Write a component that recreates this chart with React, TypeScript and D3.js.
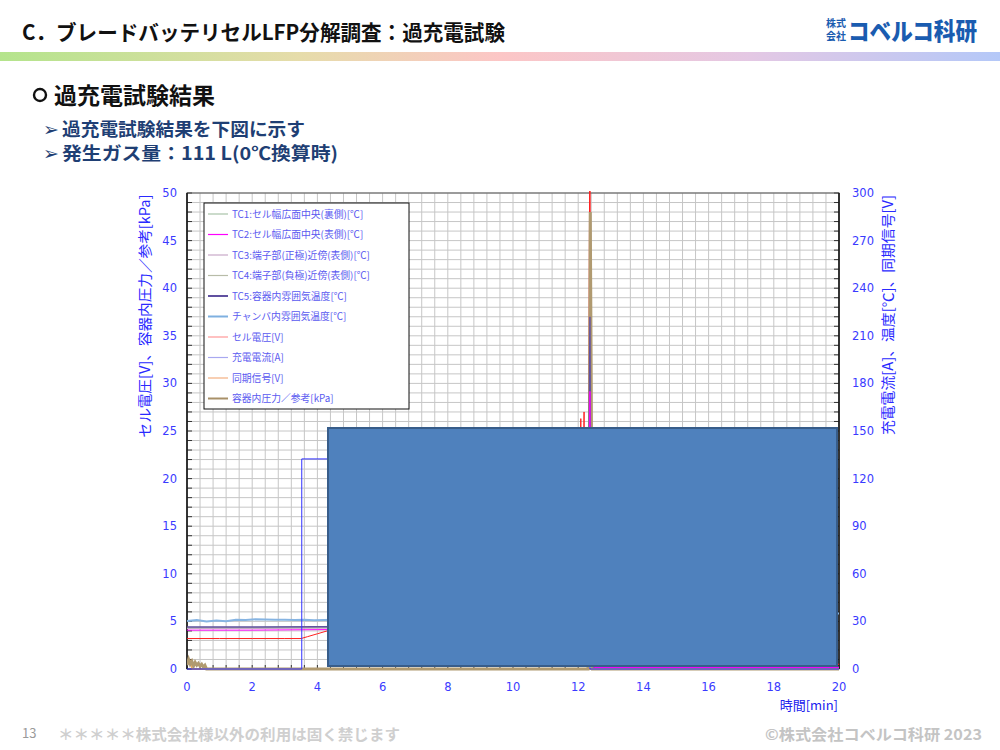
import React from "react";
import * as d3 from "d3";

// ---- data (time in min) ----
const xTicks = [0, 2, 4, 6, 8, 10, 12, 14, 16, 18, 20];
const leftTicks = [0, 5, 10, 15, 20, 25, 30, 35, 40, 45, 50];
const rightTicks = [0, 30, 60, 90, 120, 150, 180, 210, 240, 270, 300];

// left axis series
const voltageT = [0, 1, 2, 3, 3.5, 3.7, 4.0, 4.3, 6, 8, 10, 11.5, 12.0, 12.08, 12.1, 12.12, 12.18, 12.2, 12.22, 12.3, 12.36, 12.4, 12.5, 13, 14, 15, 16, 17, 18, 19, 20];
const voltageV = [3.2, 3.2, 3.2, 3.2, 3.2, 3.4, 3.7, 4.0, 4.3, 4.5, 4.7, 5.0, 5.5, 26.3, 5.8, 6.0, 27.0, 6.2, 6.5, 7.0, 60, 0.3, 0.5, 0.2, 0.6, 0.3, 0.5, 0.2, 0.4, 0.3, 0.5];
const pressureT = [0, 0.05, 0.1, 0.15, 0.2, 0.25, 0.3, 0.35, 0.4, 0.45, 0.5, 0.55, 0.6, 2, 12.3, 12.34, 12.37, 12.4, 12.44, 13, 20];
const pressureV = [0.4, 1.0, 0.5, 0.8, 0.3, 0.7, 0.4, 0.6, 0.3, 0.5, 0.2, 0.4, 0, 0, 0, 20, 48, 30, 0, 0, 0];

// right axis series
const currentT = [0, 3.52, 3.52, 12.36, 12.36, 20];
const currentV = [0, 0, 132.4, 132.4, 0, 0];
const syncT = [0, 0.15, 0.15, 20];
const syncV = [5.5, 5.5, 0, 0];
const chamberT = [0, 0.3, 0.6, 0.9, 1.2, 1.5, 1.8, 2.1, 2.4, 2.7, 3.0, 3.3, 3.6, 3.9, 4.2, 4.5, 8, 12.3, 13, 16, 20];
const chamberV = [30.2, 30.8, 30.0, 30.6, 30.1, 31.0, 30.9, 31.3, 31.2, 31.0, 31.1, 30.9, 31.0, 30.8, 30.9, 31.0, 31.0, 31.2, 33, 34, 35];
const tcT = [0, 2, 4, 6, 8, 10, 12, 12.3, 12.36, 12.4, 12.5, 20];
const tc1V = [26.0, 26.0, 26.2, 26.5, 27, 27.5, 28, 30, 150, 2, 1, 1];
const tc2V = [24.5, 24.5, 24.8, 25.2, 25.8, 26.5, 27, 30, 175, 2, 1, 1];
const tc3V = [25.5, 25.5, 25.7, 26.0, 26.5, 27.0, 27.5, 30, 120, 2, 1, 1];
const tc4V = [25.8, 25.8, 26.0, 26.3, 26.8, 27.3, 27.8, 30, 110, 2, 1, 1];
const tc5V = [26.5, 26.5, 26.6, 26.8, 27.2, 27.8, 28.2, 32, 222, 2, 1, 1];

const legendLabels = [
  "TC1:セル幅広面中央(裏側)[℃]",
  "TC2:セル幅広面中央(表側)[℃]",
  "TC3:端子部(正極)近傍(表側)[℃]",
  "TC4:端子部(負極)近傍(表側)[℃]",
  "TC5:容器内雰囲気温度[℃]",
  "チャンバ内雰囲気温度[℃]",
  "セル電圧[V]",
  "充電電流[A]",
  "同期信号[V]",
  "容器内圧力／参考[kPa]",
];
const legendColors = ["#a8c4a8", "#ff00ff", "#c8a8c8", "#b8bca8", "#6050a0", "#7fb0e0", "#ff9898", "#a8a8f0", "#f4b080", "#a89068"];
const legendWidths = [1.2, 1.2, 1.2, 1.2, 2, 2, 1.2, 1.2, 1.2, 2];

export default function App() {
  const L = 187, R = 839, T = 193, B = 669;
  const x = d3.scaleLinear().domain([0, 20]).range([L, R]);
  const yL = d3.scaleLinear().domain([0, 50]).range([B, T]);
  const yR = d3.scaleLinear().domain([0, 300]).range([B, T]);

  const lineL = (ts: number[], vs: number[]) =>
    d3.line<number>().x((_, i) => x(ts[i])).y((v) => yL(v))(vs) || "";
  const lineR = (ts: number[], vs: number[]) =>
    d3.line<number>().x((_, i) => x(ts[i])).y((v) => yR(v))(vs) || "";

  const vGrid = d3.range(0, 20.001, 0.4);
  const hGrid = d3.range(0, 50.001, 1);

  const axisColor = "#3a3aff";
  const tickFont = "DejaVu Sans, Verdana, sans-serif";
  const jp = "'Noto Sans CJK JP', sans-serif";

  return (
    <svg width={1000} height={750} style={{ position: "absolute", left: 0, top: 0, background: "#fff" }}>
      <defs>
        <linearGradient id="band" x1="0" x2="1" y1="0" y2="0">
          <stop offset="0" stopColor="#b4e48c" />
          <stop offset="0.3" stopColor="#e6dcaa" />
          <stop offset="0.5" stopColor="#fcc6c6" />
          <stop offset="0.75" stopColor="#e4c8e4" />
          <stop offset="1" stopColor="#b4c8f8" />
        </linearGradient>
        <clipPath id="plotclip">
          <rect x={L} y={T - 2} width={R - L} height={B - T + 4} />
        </clipPath>
      </defs>

      {/* header */}
      <text x={22} y={40} fontFamily={jp} fontWeight="bold" fontSize={21} fill="#111" textLength={483} lengthAdjust="spacingAndGlyphs">
        C．ブレードバッテリセルLFP分解調査：過充電試験
      </text>
      <text x={826} y={27} fontFamily={jp} fontWeight="bold" fontSize={10} fill="#1a5cb0" textLength={20} lengthAdjust="spacingAndGlyphs">株式</text>
      <text x={826} y={40} fontFamily={jp} fontWeight="bold" fontSize={10} fill="#1a5cb0" textLength={20} lengthAdjust="spacingAndGlyphs">会社</text>
      <text x={848} y={40} fontFamily={jp} fontWeight="900" fontSize={24} fill="#1a5cb0" textLength={129} lengthAdjust="spacingAndGlyphs">コベルコ科研</text>
      <rect x={0} y={52} width={1000} height={9} fill="url(#band)" />

      {/* subtitle and bullets */}
      <circle cx={40} cy={95} r={6} fill="none" stroke="#111" strokeWidth={2.4} />
      <text x={54} y={104} fontFamily={jp} fontWeight="bold" fontSize={23} fill="#111">過充電試験結果</text>
      <text x={43} y={136} fontFamily="DejaVu Sans, sans-serif" fontWeight="bold" fontSize={19} fill="#1f3f74">➢</text>
      <text x={62} y={136} fontFamily={jp} fontWeight="bold" fontSize={18} fill="#1f3f74" textLength={243} lengthAdjust="spacingAndGlyphs">過充電試験結果を下図に示す</text>
      <text x={43} y={160} fontFamily="DejaVu Sans, sans-serif" fontWeight="bold" fontSize={19} fill="#1f3f74">➢</text>
      <text x={62} y={160} fontFamily={jp} fontWeight="bold" fontSize={18} fill="#1f3f74" textLength={276} lengthAdjust="spacingAndGlyphs">発生ガス量：111 L(0℃換算時)</text>

      {/* grid */}
      <g stroke="#c6c6c6" strokeWidth={1}>
        {vGrid.map((v, i) => (
          <line key={"v" + i} x1={x(v)} x2={x(v)} y1={T} y2={B} />
        ))}
        {hGrid.map((v, i) => (
          <line key={"h" + i} x1={L} x2={R} y1={yL(v)} y2={yL(v)} />
        ))}
      </g>
      {/* axis tick marks */}
      <g stroke="#333" strokeWidth={1}>
        {hGrid.map((v, i) => (
          <line key={"lt" + i} x1={L} x2={L + 5} y1={yL(v)} y2={yL(v)} />
        ))}
        {hGrid.map((v, i) => (
          <line key={"rt" + i} x1={R - 5} x2={R} y1={yL(v)} y2={yL(v)} />
        ))}
        {vGrid.map((v, i) => (
          <line key={"bt" + i} x1={x(v)} x2={x(v)} y1={B - 4} y2={B} />
        ))}
      </g>
      <rect x={L} y={T} width={R - L} height={B - T} fill="none" stroke="#555" strokeWidth={1} />
      <line x1={L} x2={L} y1={T} y2={B} stroke="#111" strokeWidth={1.5} />
      <line x1={R} x2={R} y1={T} y2={B} stroke="#111" strokeWidth={1.5} />

      {/* series */}
      <g clipPath="url(#plotclip)" fill="none">
        <path d={lineR(chamberT, chamberV)} stroke="#86b4e2" strokeWidth={2} />
        <path d={lineR(tcT, tc4V)} stroke="#b8bca8" strokeWidth={1} />
        <path d={lineR(tcT, tc3V)} stroke="#c8a8c8" strokeWidth={1} />
        <path d={lineR(tcT, tc1V)} stroke="#a8c4a8" strokeWidth={1} />
        <path d={lineR(syncT, syncV)} stroke="#e88a20" strokeWidth={1.2} />
        <path d={lineL(voltageT, voltageV)} stroke="#ff2020" strokeWidth={1} />
        <path d={lineL(pressureT, pressureV)} stroke="#b09a70" strokeWidth={3} />
        <path d={lineR(tcT, tc5V)} stroke="#6050a0" strokeWidth={1.4} />
        <path d={lineR(tcT, tc2V)} stroke="#ff00ff" strokeWidth={1} />
        <path d={lineR(currentT, currentV)} stroke="#3030ff" strokeWidth={1} />
      </g>

      {/* legend */}
      <rect x={204} y={203} width={205} height={206} fill="#fff" stroke="#111" strokeWidth={1} />
      {legendLabels.map((lab, i) => {
        const yy = 214 + i * 20.5;
        return (
          <g key={lab}>
            <line x1={208} x2={228} y1={yy} y2={yy} stroke={legendColors[i]} strokeWidth={legendWidths[i]} />
            <text x={232} y={yy + 3.5} fontFamily={jp} fontSize={9.8} fill="#5a5af0">{lab}</text>
          </g>
        );
      })}

      {/* tick labels */}
      <g fontFamily={tickFont} fontSize={11.5} fill={axisColor}>
        {leftTicks.map((v) => (
          <text key={"l" + v} x={177} y={yL(v) + 4} textAnchor="end">{v}</text>
        ))}
        {rightTicks.map((v) => (
          <text key={"r" + v} x={852} y={yR(v) + 4} textAnchor="start">{v}</text>
        ))}
        {xTicks.map((v) => (
          <text key={"x" + v} x={x(v)} y={691} textAnchor="middle">{v}</text>
        ))}
      </g>
      <text x={838} y={710} fontFamily={jp} fontSize={13} fill="#2020ee" textAnchor="end">時間[min]</text>
      <text transform={`translate(150,316) rotate(-90)`} fontFamily={jp} fontSize={14} fill="#2a2aff" textAnchor="middle" textLength={243} lengthAdjust="spacingAndGlyphs">
        セル電圧[V]、容器内圧力／参考[kPa]
      </text>
      <text transform={`translate(893,315) rotate(-90)`} fontFamily={jp} fontSize={14} fill="#2a2aff" textAnchor="middle" textLength={240} lengthAdjust="spacingAndGlyphs">
        充電電流[A]、温度[℃]、同期信号[V]
      </text>

      {/* cover box */}
      <rect x={328} y={428} width={509} height={238} fill="#4f81bd" stroke="#385d8a" strokeWidth={2} />

      {/* footer */}
      <text x={22} y={738} fontFamily={jp} fontSize={13} fill="#9a9a9a">13</text>
      <text x={58} y={740} fontFamily={jp} fontWeight="bold" fontSize={15} fill="#cfcfcf" textLength={342} lengthAdjust="spacingAndGlyphs">＊＊＊＊＊株式会社様以外の利用は固く禁じます</text>
      <text x={982} y={740} fontFamily={jp} fontWeight="bold" fontSize={15} fill="#c4c4c4" textAnchor="end" textLength={217} lengthAdjust="spacingAndGlyphs">©株式会社コベルコ科研 2023</text>
    </svg>
  );
}
